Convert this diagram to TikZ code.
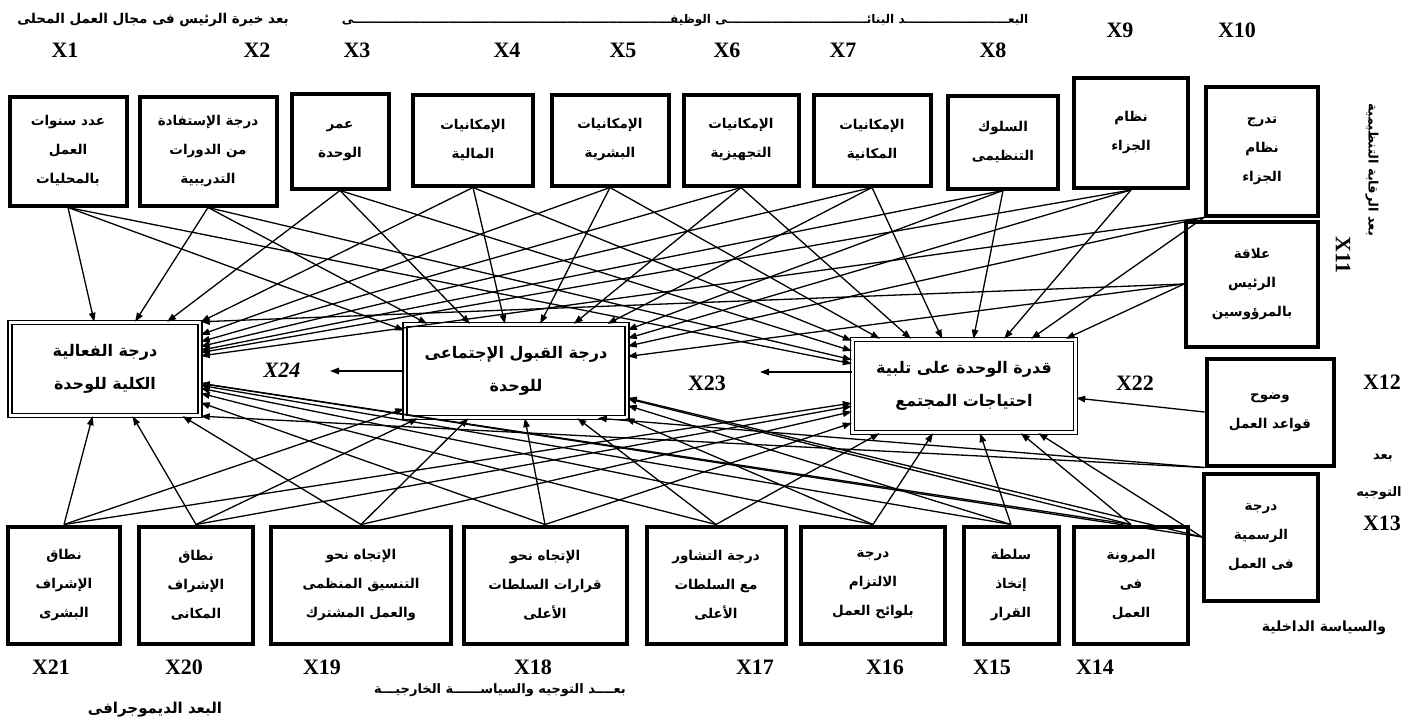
\documentclass[tikz,border=0pt]{standalone}
\usepackage{fontspec}
\setmainfont{Liberation Serif}
\newfontfamily\arfont[Script=Arabic]{DejaVu Sans}
\TeXXeTstate=1
\usetikzlibrary{arrows.meta}
\newcommand\AR[1]{{\arfont\bfseries\beginR #1\endR}}
\newcommand\tw[1]{\ifnum#1>0 ـ\expandafter\tw\expandafter{\the\numexpr#1-1\relax}\fi}
\tikzset{
  box/.style={draw,line width=4pt,inner sep=2pt,align=center,font=\fontsize{13.5}{29}\selectfont},
  mid/.style={draw,double,double distance=2.5pt,line width=1.4pt,align=center,font=\fontsize{16}{33}\selectfont},
  xl/.style={font=\fontsize{22}{22}\selectfont\bfseries},
  dim/.style={font=\fontsize{13}{15}\selectfont},
  arr/.style={line width=1.3pt,-{Triangle[length=9pt,width=6.5pt]}}
}
\begin{document}
\begin{tikzpicture}[x=1pt,y=-1pt]
\useasboundingbox (0,0) rectangle (1414,723);
% top row
\node[box,minimum width=117,minimum height=109] (X1) at (68,151) {\AR{عدد سنوات}\\\AR{العمل}\\\AR{بالمحليات}};
\node[box,minimum width=137,minimum height=109] (X2) at (208,151) {\AR{درجة الإستفادة}\\\AR{من الدورات}\\\AR{التدريبية}};
\node[box,minimum width=97,minimum height=95] (X3) at (340,141) {\AR{عمر}\\\AR{الوحدة}};
\node[box,minimum width=120,minimum height=91] (X4) at (473,140) {\AR{الإمكانيات}\\\AR{المالية}};
\node[box,minimum width=117,minimum height=91] (X5) at (610,140) {\AR{الإمكانيات}\\\AR{البشرية}};
\node[box,minimum width=115,minimum height=91] (X6) at (741,140) {\AR{الإمكانيات}\\\AR{التجهيزية}};
\node[box,minimum width=117,minimum height=91] (X7) at (872,140) {\AR{الإمكانيات}\\\AR{المكانية}};
\node[box,minimum width=110,minimum height=93] (X8) at (1003,142) {\AR{السلوك}\\\AR{التنظيمى}};
\node[box,minimum width=114,minimum height=110] (X9) at (1131,133) {\AR{نظام}\\\AR{الجزاء}};
\node[box,minimum width=112,minimum height=129] (X10) at (1262,151) {\AR{تدرج}\\\AR{نظام}\\\AR{الجزاء}};
\node[box,minimum width=132,minimum height=125] (X11) at (1252,284) {\AR{علاقة}\\\AR{الرئيس}\\\AR{بالمرؤوسين}};
\node[box,minimum width=127,minimum height=107] (X12) at (1270,412) {\AR{وضوح}\\\AR{قواعد العمل}};
\node[box,minimum width=114,minimum height=127] (X13) at (1261,537) {\AR{درجة}\\\AR{الرسمية}\\\AR{فى العمل}};
% bottom row
\node[box,minimum width=112,minimum height=117] (X21) at (64,585) {\AR{نطاق}\\\AR{الإشراف}\\\AR{البشرى}};
\node[box,minimum width=114,minimum height=117] (X20) at (196,585) {\AR{نطاق}\\\AR{الإشراف}\\\AR{المكانى}};
\node[box,minimum width=180,minimum height=117] (X19) at (361,585) {\AR{الإتجاه نحو}\\\AR{التنسيق المنظمى}\\\AR{والعمل المشترك}};
\node[box,minimum width=163,minimum height=117] (X18) at (545,585) {\AR{الإتجاه نحو}\\\AR{قرارات السلطات}\\\AR{الأعلى}};
\node[box,minimum width=139,minimum height=117] (X17) at (716,585) {\AR{درجة التشاور}\\\AR{مع السلطات}\\\AR{الأعلى}};
\node[box,minimum width=144,minimum height=117] (X16) at (873,585) {\AR{درجة}\\\AR{الالتزام}\\\AR{بلوائح العمل}};
\node[box,minimum width=95,minimum height=117] (X15) at (1011,585) {\AR{سلطة}\\\AR{إتخاذ}\\\AR{القرار}};
\node[box,minimum width=114,minimum height=117] (X14) at (1131,585) {\AR{المرونة}\\\AR{فى}\\\AR{العمل}};
% middle
\node[mid,minimum width=190,minimum height=93] (Y1) at (105,369) {\AR{درجة الفعالية}\\\AR{الكلية للوحدة}};
\node[mid,minimum width=222,minimum height=93] (Y2) at (516,371) {\AR{درجة القبول الإجتماعى}\\\AR{للوحدة}};
\node[mid,minimum width=223,minimum height=93] (Y3) at (964,386) {\AR{قدرة الوحدة على تلبية}\\\AR{احتياجات المجتمع}};
% connectors from top row
\foreach \s in {X1,X2,X3,X4,X5,X6,X7,X8,X9}
  \foreach \t in {Y1,Y2,Y3}
    \draw[arr] (\s.south) -- (\t);
\foreach \t in {Y1,Y2,Y3}
  \draw[arr] (X10.south west) -- (\t);
\draw[arr] (X11.west) -- (Y1.north east);
\draw[arr] (X11.west) -- (Y2);
\draw[arr] (X11.west) -- (Y3);
\draw[arr] (X12.south west) -- (Y1.south east);
\draw[arr] (X12.south west) -- ([xshift=-30pt]Y2.south east);
\draw[arr] (X12.west) -- (Y3);
\foreach \t in {Y1,Y2,Y3}
  \draw[arr] (X13.west) -- (\t);
\foreach \s in {X14,X15,X16,X17,X18,X19,X20,X21}
  \foreach \t in {Y1,Y2,Y3}
    \draw[arr] (\s.north) -- (\t);
% free arrows
\coordinate (e24) at (330,371);
\coordinate (e23) at (760,372);
\draw[arr] (Y2.west) -- (e24);
\draw[arr] ([yshift=14pt]Y3.west) -- (e23);
% X labels
\node[xl] (l1) at (65,50) {X1};
\node[xl] (l2) at (257,50) {X2};
\node[xl] (l3) at (357,50) {X3};
\node[xl] (l4) at (507,50) {X4};
\node[xl] (l5) at (623,50) {X5};
\node[xl] (l6) at (727,50) {X6};
\node[xl] (l7) at (843,50) {X7};
\node[xl] (l8) at (993,50) {X8};
\node[xl] (l9) at (1120,30) {X9};
\node[xl] (l10) at (1237,30) {X10};
\node[xl,rotate=-90] (l11) at (1343,255) {X11};
\node[xl] (l12) at (1382,382) {X12};
\node[xl] (l13) at (1382,523) {X13};
\node[xl] (l22) at (1135,383) {X22};
\node[xl] (l23) at (707,383) {X23};
\node[xl,font=\fontsize{22}{22}\selectfont\bfseries\itshape] (l24) at (282,370) {X24};
\node[xl] (l21) at (51,667) {X21};
\node[xl] (l20) at (184,667) {X20};
\node[xl] (l19) at (322,667) {X19};
\node[xl] (l18) at (533,667) {X18};
\node[xl] (l17) at (755,667) {X17};
\node[xl] (l16) at (885,667) {X16};
\node[xl] (l15) at (992,667) {X15};
\node[xl] (l14) at (1095,667) {X14};
% dimension labels
\node[dim,font=\fontsize{13.5}{15}\selectfont] (d1) at (153,20) {\AR{بعد خبرة الرئيس فى مجال العمل المحلى}};
\node[dim,font=\fontsize{12}{15}\selectfont] (d2) at (685,20) {\AR{البع\tw{25}د البنائ\tw{34}ى الوظيف\tw{77}ى}};
\node[dim,rotate=-90] (d3) at (1372,170) {\AR{بعد الرقابة التنظيمية}};
\node[dim,font=\fontsize{13}{15}\selectfont] (d4) at (1383,458) {\AR{بعد}};
\node[dim,font=\fontsize{13}{15}\selectfont] (d5) at (1379,493) {\AR{التوجيه}};
\node[dim,font=\fontsize{14}{16}\selectfont] (d6) at (1324,628) {\AR{والسياسة الداخلية}};
\node[dim] (d7) at (500,690) {\AR{بع\tw{4}د التوجيه والسياس\tw{6}ة الخارجي\tw{3}ة}};
\node[dim,font=\fontsize{15}{17}\selectfont] (d8) at (155,710) {\AR{البعد الديموجرافى}};
\end{tikzpicture}
\end{document}
